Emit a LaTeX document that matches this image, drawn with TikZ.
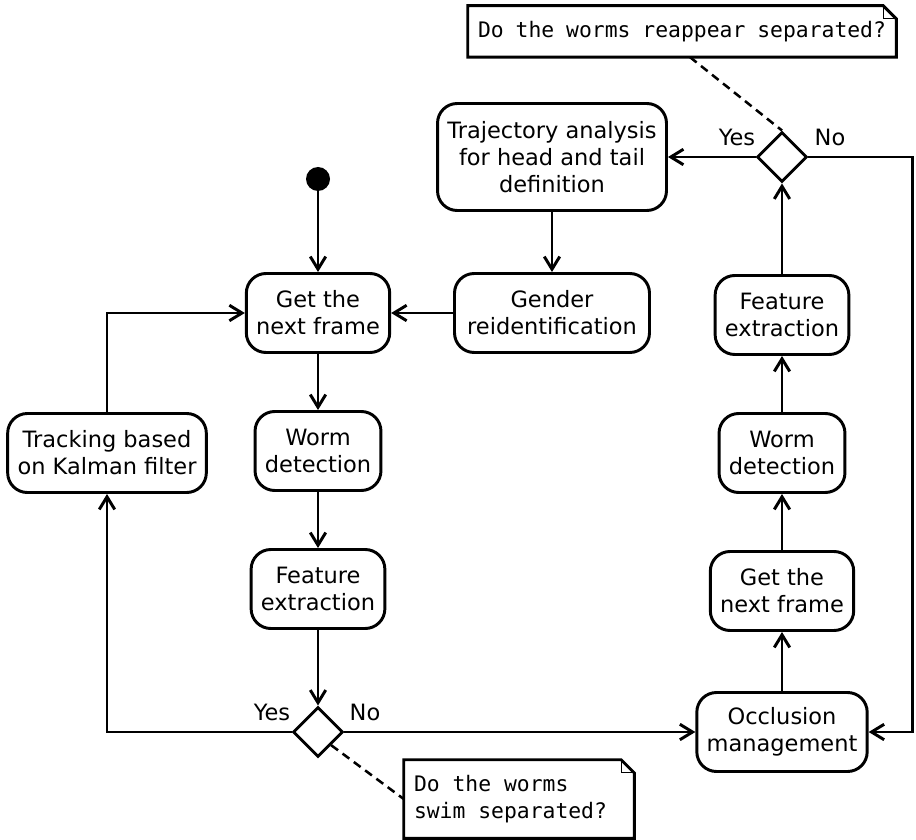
\documentclass[tikz,border=0pt]{standalone}
\usepackage{fontspec}
\setmainfont{DejaVu Sans}
\newfontfamily\notefont{DejaVu Sans Mono}
\usetikzlibrary{arrows.meta,shapes.geometric}

\tikzset{
  activity/.style={draw, line width=2.1pt, rounded corners=14pt, align=center,
    inner xsep=7pt, minimum height=1.975cm, font=\fontsize{16}{19.3}\selectfont},
  decision/.style={draw, diamond, aspect=1, line width=2.1pt, minimum size=1.25cm, inner sep=0pt},
  note/.style={align=flush left, inner xsep=0.25cm, inner ysep=0pt, font=\notefont\fontsize{15.2}{19.3}\selectfont},
  flow/.style={line width=2.1pt, -{Straight Barb[length=9pt,width=11pt]}},
  guard/.style={font=\fontsize{16}{19.3}\selectfont},
}

\begin{document}
\begin{tikzpicture}
        \useasboundingbox (0,0) rectangle (22.9,20.975);

        % Left column: main loop
        \node[circle, fill, minimum size=0.6cm, inner sep=0pt] (start) at (7.95,16.5) {};
        \node[activity] (getA) at (7.95,13.15) {Get the\\next frame};
        \node[activity] (wormA) at (7.95,9.7) {Worm\\detection};
        \node[activity] (featA) at (7.95,6.25) {Feature\\extraction};
        \node[decision] (decA) at (7.95,2.675) {};
        \node[activity] (kalman) at (2.675,9.65) {Tracking based\\on Kalman filter};

        % Top middle
        \node[activity, minimum height=2.675cm] (traj) at (13.8,17.05) {Trajectory analysis\\for head and tail\\definition};
        \node[activity, inner xsep=9pt] (gender) at (13.8,13.15) {Gender\\reidentification};

        % Right column: occlusion loop
        \node[activity] (occl) at (19.55,2.675) {Occlusion\\management};
        \node[activity] (getB) at (19.55,6.2) {Get the\\next frame};
        \node[activity] (wormB) at (19.55,9.65) {Worm\\detection};
        \node[activity] (featB) at (19.55,13.1) {Feature\\extraction};
        \node[decision] (decB) at (19.55,17.05) {};
        \coordinate (rgt) at (22.82,17.05);

        % Guards
        \node[guard] (yesA) at (6.8,3.175) {Yes};
        \node[guard] (noA) at (9.125,3.175) {No};
        \node[guard] (yesB) at (18.425,17.55) {Yes};
        \node[guard] (noB) at (20.75,17.55) {No};

        % Notes
        \node[note, text width=10.2cm, minimum height=1.275cm] (noteT) at (17.05,20.19) {Do the worms reappear separated?};
        \node[note, text width=5.25cm, minimum height=1.95cm] (noteB) at (12.975,1.0) {Do the worms\\swim separated?};
        \foreach \n in {noteT, noteB} {
            \draw[line width=2.1pt] (\n.south west) -- (\n.north west) -- ([xshift=-0.33cm]\n.north east)
                -- ([yshift=-0.33cm]\n.north east) -- (\n.south east) -- cycle;
            \draw[line width=0.7pt] ([xshift=-0.33cm]\n.north east) -- ([xshift=-0.33cm,yshift=-0.33cm]\n.north east)
                -- ([yshift=-0.33cm]\n.north east);
        }
        \draw[line width=1.8pt, dash pattern=on 6pt off 4pt] ([xshift=0.2cm]noteT.south) -- (decB.north);
        \draw[line width=1.8pt, dash pattern=on 6pt off 4pt] (decA.south east) -- (noteB.west);

        % Flows
        \draw[flow] (start) -- (getA);
        \draw[flow] (getA) -- (wormA);
        \draw[flow] (wormA) -- (featA);
        \draw[flow] (featA) -- (decA);
        \draw[flow] (decA.west) -| (kalman.south);
        \draw[flow] (kalman.north) |- (getA.west);
        \draw[flow] (decA.east) -- (occl.west);
        \draw[flow] (occl) -- (getB);
        \draw[flow] (getB) -- (wormB);
        \draw[flow] (wormB) -- (featB);
        \draw[flow] (featB) -- (decB);
        \draw[flow] (decB.east) -- (rgt) |- (occl.east);
        \draw[flow] (decB.west) -- (traj.east);
        \draw[flow] (traj) -- (gender);
        \draw[flow] (gender) -- (getA);
    \end{tikzpicture}
\end{document}
